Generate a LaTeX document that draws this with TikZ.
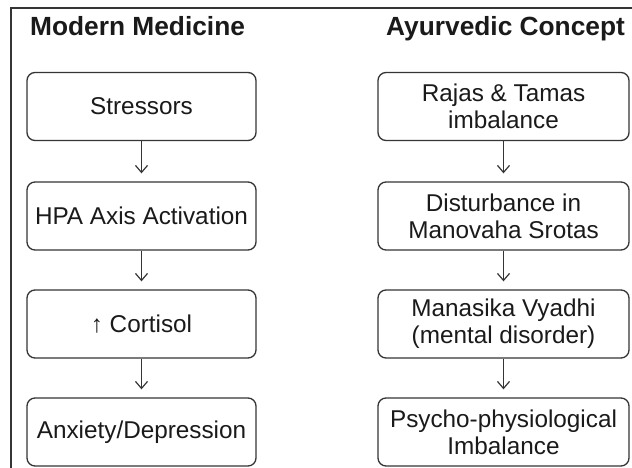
\documentclass[tikz,border=0pt]{standalone}
\usepackage{fontspec}
\setmainfont{Liberation Sans}
\usetikzlibrary{arrows.meta}
\definecolor{ink}{HTML}{1A1A1A}
\definecolor{edge}{HTML}{353535}
\tikzset{
  stepbox/.style={draw=edge, line width=1.3pt, rounded corners=8pt, align=center,
    inner sep=0pt, text=ink, font=\fontsize{24.3}{27}\selectfont, minimum height=68pt},
  leftbox/.style={stepbox, minimum width=229pt},
  rightbox/.style={stepbox, minimum width=251pt},
  heading/.style={anchor=base west, inner sep=0pt, text=ink, font=\bfseries\fontsize{26.3}{30}\selectfont},
  arr/.style={draw=edge, line width=1.2pt, -{Straight Barb[length=7pt,width=12pt,line width=1.2pt]}},
  frame/.style={draw=edge, line width=1.1pt}
}
\begin{document}
\begin{tikzpicture}[x=1pt,y=-1pt]
\useasboundingbox (0,0) rectangle (632,468);
\fill[white] (0,0) rectangle (632,468);
% frame
\coordinate (ftr) at (632,8);
\coordinate (ftl) at (11,8);
\coordinate (fbl) at (11,468);
\draw[frame] (ftr) -- (ftl) -- (fbl);
% headings
\node[heading] (hl) at (30,36) {Modern Medicine};
\node[heading] (hr) at (386,36) {Ayurvedic Concept};
% left column
\node[leftbox] (l1) at (141.5,106.5) {Stressors};
\node[leftbox] (l2) at (141.5,216) {HPA Axis Activation};
\node[leftbox] (l3) at (141.5,324) {↑ Cortisol};
\node[leftbox] (l4) at (141.5,432) {Anxiety/Depression};
% right column
\node[rightbox] (r1) at (503.5,106.5) {Rajas \& Tamas\\imbalance};
\node[rightbox] (r2) at (503.5,216) {Disturbance in\\Manovaha Srotas};
\node[rightbox] (r3) at (503.5,324) {Manasika Vyadhi\\(mental disorder)};
\node[rightbox] (r4) at (503.5,432) {Psycho-physiological\\Imbalance};
% arrows
\foreach \a/\b in {l1/l2,l2/l3,l3/l4,r1/r2,r2/r3,r3/r4}{
  \draw[arr] (\a.south) -- ([yshift=8pt]\b.north);
}
\end{tikzpicture}
\end{document}
